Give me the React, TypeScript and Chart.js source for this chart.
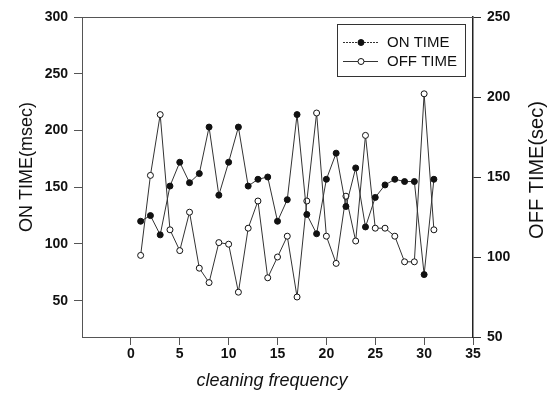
import React, { useEffect, useRef } from "react";
import { Chart, registerables } from "chart.js";

Chart.register(...registerables);

const frequency = [1, 2, 3, 4, 5, 6, 7, 8, 9, 10, 11, 12, 13, 14, 15, 16, 17, 18, 19, 20, 21, 22, 23, 24, 25, 26, 27, 28, 29, 30, 31];
const onTime = [120, 125, 108, 151, 172, 154, 162, 203, 143, 172, 203, 151, 157, 159, 120, 139, 214, 126, 109, 157, 180, 133, 167, 115, 141, 152, 157, 155, 155, 73, 157];
const offTime = [101, 151, 189, 117, 104, 128, 93, 84, 109, 108, 78, 118, 135, 87, 100, 113, 75, 135, 190, 113, 96, 138, 110, 176, 118, 118, 113, 97, 97, 202, 117];

const xTicks = [0, 5, 10, 15, 20, 25, 30, 35];
const leftTicks = [50, 100, 150, 200, 250, 300];
const rightTicks = [50, 100, 150, 200, 250];

const seriesNames = ["ON TIME", "OFF TIME"];
const xTitle = "cleaning frequency";
const leftTitle = "ON TIME(msec)";
const rightTitle = "OFF TIME(sec)";

const FONT = '"Liberation Sans", Arial, sans-serif';

const framePlugin = {
  id: "framePlugin",
  afterDraw(chart: any) {
    const { ctx, chartArea } = chart;
    ctx.save();
    // top border
    ctx.strokeStyle = "#555";
    ctx.lineWidth = 1;
    ctx.beginPath();
    ctx.moveTo(chartArea.left, chartArea.top + 0.5);
    ctx.lineTo(chartArea.right, chartArea.top + 0.5);
    ctx.stroke();

    // axis titles
    ctx.fillStyle = "#111";
    ctx.textAlign = "center";
    ctx.textBaseline = "middle";
    ctx.font = `18px ${FONT}`;
    ctx.save();
    ctx.translate(27, 167);
    ctx.rotate(-Math.PI / 2);
    ctx.fillText(leftTitle, 0, 0);
    ctx.restore();

    ctx.font = `20px ${FONT}`;
    ctx.save();
    ctx.translate(537, 170);
    ctx.rotate(-Math.PI / 2);
    ctx.fillText(rightTitle, 0, 0);
    ctx.restore();

    ctx.font = `italic 18px ${FONT}`;
    ctx.fillText(xTitle, 272, 381);

    // legend
    ctx.strokeStyle = "#333";
    ctx.lineWidth = 1;
    ctx.strokeRect(337.5, 24.5, 128, 52);
    const rows = [42, 61];
    rows.forEach((yy, i) => {
      ctx.strokeStyle = "#333";
      ctx.lineWidth = 1;
      if (i === 0) ctx.setLineDash([2, 1]);
      ctx.beginPath();
      ctx.moveTo(343, yy + 0.5);
      ctx.lineTo(378, yy + 0.5);
      ctx.stroke();
      ctx.setLineDash([]);
      ctx.beginPath();
      ctx.arc(361, yy + 0.5, 3, 0, Math.PI * 2);
      ctx.fillStyle = i === 0 ? "#111" : "#fff";
      ctx.fill();
      ctx.strokeStyle = "#111";
      ctx.stroke();
      ctx.fillStyle = "#111";
      ctx.font = `15px ${FONT}`;
      ctx.textAlign = "left";
      ctx.textBaseline = "middle";
      ctx.fillText(seriesNames[i], 387, yy + 1);
    });
    ctx.restore();
  },
};

export default function App() {
  const canvasRef = useRef<HTMLCanvasElement | null>(null);

  useEffect(() => {
    if (!canvasRef.current) return;
    const tickFont = { family: FONT, size: 14, weight: "bold" as const };
    const chart = new Chart(canvasRef.current, {
      type: "line",
      data: {
        datasets: [
          {
            label: seriesNames[0],
            data: frequency.map((f, i) => ({ x: f, y: onTime[i] })),
            yAxisID: "y",
            borderColor: "#333",
            borderWidth: 1,
            pointRadius: 3,
            pointBackgroundColor: "#111",
            pointBorderColor: "#111",
            pointBorderWidth: 1,
            tension: 0,
          },
          {
            label: seriesNames[1],
            data: frequency.map((f, i) => ({ x: f, y: offTime[i] })),
            yAxisID: "y1",
            borderColor: "#333",
            borderWidth: 1,
            pointRadius: 3,
            pointBackgroundColor: "#fff",
            pointBorderColor: "#111",
            pointBorderWidth: 1,
            tension: 0,
          },
        ],
      },
      options: {
        animation: false,
        responsive: false,
        maintainAspectRatio: false,
        layout: { padding: { top: 17, left: 0, right: 0, bottom: 0 } },
        plugins: {
          legend: { display: false },
          tooltip: { enabled: false },
        },
        scales: {
          x: {
            type: "linear",
            position: "bottom",
            min: -5,
            max: 35,
            afterBuildTicks: (s: any) => {
              s.ticks = xTicks.map((v) => ({ value: v }));
            },
            afterFit: (s: any) => {
              s.height = 64;
            },
            ticks: {
              font: tickFont,
              color: "#111",
              padding: 1,
              maxRotation: 0,
              autoSkip: false,
              callback: (v: any) => String(v),
            },
            grid: { drawOnChartArea: false, drawTicks: true, tickLength: 8, color: "#555" },
            border: { display: true, color: "#555", width: 1 },
          },
          y: {
            type: "linear",
            position: "left",
            min: 18,
            max: 300,
            afterBuildTicks: (s: any) => {
              s.ticks = leftTicks.map((v) => ({ value: v }));
            },
            afterFit: (s: any) => {
              s.width = 82;
            },
            ticks: {
              font: tickFont,
              color: "#111",
              padding: 6,
              callback: (v: any) => String(v),
            },
            grid: { drawOnChartArea: false, drawTicks: true, tickLength: 8, color: "#555" },
            border: { display: true, color: "#555", width: 1 },
          },
          y1: {
            type: "linear",
            position: "right",
            min: 50,
            max: 250,
            afterBuildTicks: (s: any) => {
              s.ticks = rightTicks.map((v) => ({ value: v }));
            },
            afterFit: (s: any) => {
              s.width = 78;
            },
            ticks: {
              font: tickFont,
              color: "#111",
              padding: 6,
              callback: (v: any) => String(v),
            },
            grid: { drawOnChartArea: false, drawTicks: true, tickLength: 8, color: "#333" },
            border: { display: true, color: "#222", width: 1.5 },
          },
        },
      },
      plugins: [framePlugin],
    } as any);
    return () => chart.destroy();
  }, []);

  return (
    <div style={{ position: "absolute", left: 0, top: 0, width: 551, height: 401, background: "#fff" }}>
      <canvas ref={canvasRef} width={551} height={401} style={{ width: 551, height: 401, display: "block" }} />
    </div>
  );
}
